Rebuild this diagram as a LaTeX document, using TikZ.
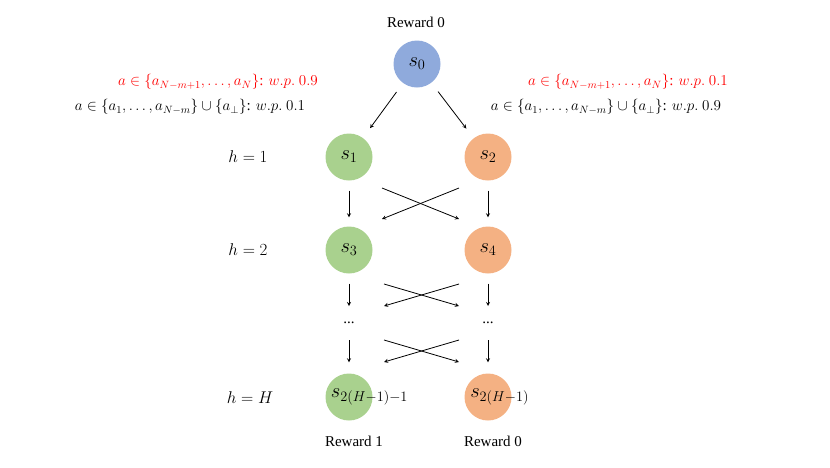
\documentclass[tikz,border=0pt]{standalone}
\usepackage{fix-cm}
\usepackage{fontspec}
\setmainfont{Liberation Serif}
\usetikzlibrary{arrows}
\definecolor{stblue}{HTML}{8FAADC}
\definecolor{stgreen}{HTML}{A9D18E}
\definecolor{storange}{HTML}{F4B183}
\tikzset{
    state/.style={circle,minimum size=47pt,inner sep=0pt,draw=none,font=\fontsize{20.5}{22}\selectfont},
    mathlbl/.style={font=\fontsize{17}{19}\selectfont},
    problbl/.style={font=\fontsize{15.1}{18}\selectfont},
    arr/.style={-stealth,line width=0.8pt},
}

\begin{document}
\begin{tikzpicture}[x=1pt,y=-1pt,font=\fontsize{15}{18}\selectfont]
\useasboundingbox (0,0) rectangle (830,467);
% states
\node[state,fill=stblue] (s0) at (417,64) {$s_0$};
\node (r0) at (416,22) {Reward 0};
\node[state,fill=stgreen] (s1) at (349,157) {$s_1$};
\node[state,fill=storange] (s2) at (488,157) {$s_2$};
\node[state,fill=stgreen] (s3) at (349,250) {$s_3$};
\node[state,fill=storange] (s4) at (488,250) {$s_4$};
\node (d1) at (349,323) {...};
\node (d2) at (488,323) {...};
\node[state,fill=stgreen] (s5) at (349,397) {};
\node[state,anchor=west,inner sep=0pt,minimum size=0pt] (t5) at (330,397) {$s_{2(H-1)-1}$};
\node[state,fill=storange] (s6) at (488,397) {};
\node[state,anchor=west,inner sep=0pt,minimum size=0pt] (t6) at (469,397) {$s_{2(H-1)}$};
\node (r1) at (354,441) {Reward 1};
\node (r2) at (493,441) {Reward 0};
% levels
\node[mathlbl] (h1) at (248,157) {$h=1$};
\node[mathlbl] (h2) at (248,250) {$h=2$};
\node[mathlbl] (hH) at (250,398) {$h=H$};
% action probabilities
\node[problbl,red] (pl1) at (218,82) {$a\in\{a_{N-m+1},\dots,a_N\}$: $w.p.\ 0.9$};
\node[problbl] (pl2) at (190,107) {$a\in\{a_1,\dots,a_{N-m}\}\cup\{a_\perp\}$: $w.p.\ 0.1$};
\node[problbl,red] (pr1) at (628,82) {$a\in\{a_{N-m+1},\dots,a_N\}$: $w.p.\ 0.1$};
\node[problbl] (pr2) at (606,107) {$a\in\{a_1,\dots,a_{N-m}\}\cup\{a_\perp\}$: $w.p.\ 0.9$};
% transitions
\draw[arr,shorten <=11pt,shorten >=12pt] (s0) -- (s1);
\draw[arr,shorten <=11pt,shorten >=12pt] (s0) -- (s2);
\draw[arr,shorten <=10pt,shorten >=9pt] (s1) -- (s3);
\draw[arr,shorten <=10pt,shorten >=9pt] (s2) -- (s4);
\draw[arr,shorten <=10pt,shorten >=17pt] (s3) -- (d1.center);
\draw[arr,shorten <=10pt,shorten >=17pt] (s4) -- (d2.center);
\draw[arr,shorten <=17pt,shorten >=11pt] (d1.center) -- (s5);
\draw[arr,shorten <=17pt,shorten >=11pt] (d2.center) -- (s6);
% crossings
\coordinate (c1a) at (382,188);
\coordinate (c1b) at (459,188);
\coordinate (c1c) at (382,219);
\coordinate (c1d) at (459,219);
\draw[arr] (c1a) -- (c1d);
\draw[arr] (c1b) -- (c1c);
\coordinate (c2a) at (384,284);
\coordinate (c2b) at (459,284);
\coordinate (c2c) at (384,306);
\coordinate (c2d) at (459,306);
\draw[arr] (c2a) -- (c2d);
\draw[arr] (c2b) -- (c2c);
\coordinate (c3a) at (384,340);
\coordinate (c3b) at (459,340);
\coordinate (c3c) at (384,362);
\coordinate (c3d) at (459,362);
\draw[arr] (c3a) -- (c3d);
\draw[arr] (c3b) -- (c3c);
%\draw[arr] (s1) -- (s4);
\end{tikzpicture}
\end{document}
